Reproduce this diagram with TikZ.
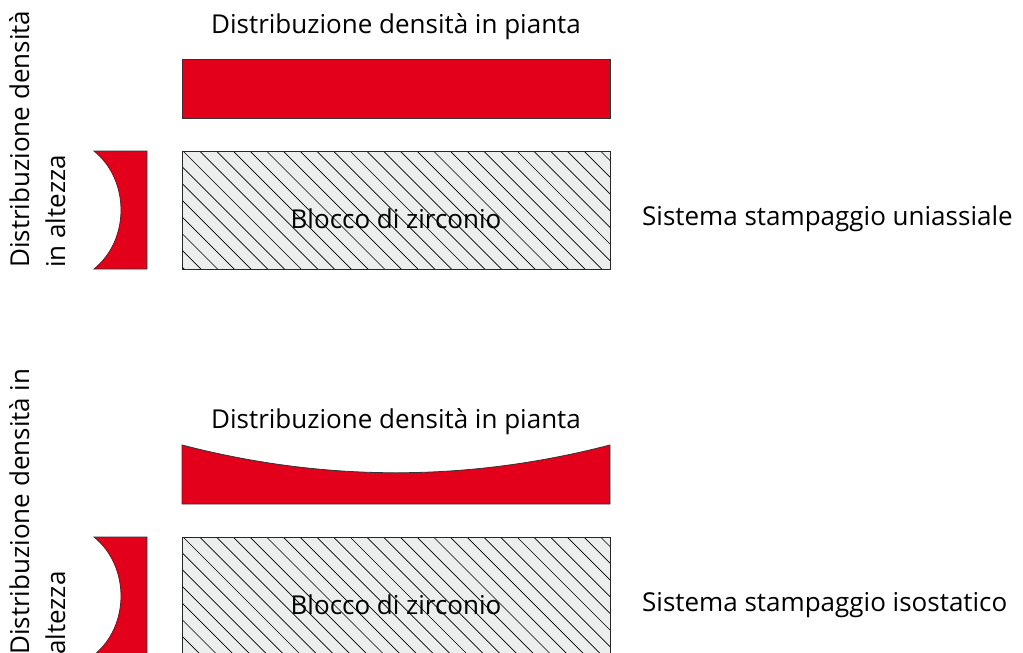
\documentclass[tikz,border=0pt]{standalone}
\usepackage{fontspec}
\setmainfont{Open Sans}
\definecolor{dred}{HTML}{E2001A}
\definecolor{hfill}{HTML}{ECEDED}
\tikzset{
  redshape/.style={fill=dred,draw=black!80,line width=0.8pt},
  blockbox/.style={fill=hfill,draw=black!85,line width=1pt},
  hatchline/.style={draw=black,line width=0.7pt},
  lbl/.style={font=\fontsize{26}{36}\selectfont,inner sep=0pt},
}
\begin{document}
\begin{tikzpicture}[x=1pt,y=-1pt]
\useasboundingbox (0,0) rectangle (1023,653);
% ---------- top ----------
\node[lbl] (t1) at (396,27) {Distribuzione densità in pianta};
\draw[redshape] (182,59) rectangle (610,118);
\draw[blockbox] (182,151) rectangle (610,269);
\begin{scope}
\clip (182,151) rectangle (610,269);
\foreach \i in {-10,...,30}{
  \draw[hatchline] ({183+16.7*\i},151) -- ++(130,130);
}
\end{scope}
\draw[blockbox,fill=none] (182,151) rectangle (610,269);
\node[lbl] (b1) at (396,219) {Blocco di zirconio};
\node[lbl,anchor=west] (s1) at (642,219) {Sistema stampaggio uniassiale};
\draw[redshape] (94,151) .. controls (130,180) and (130,240) .. (94,269) -- (147,269) -- (147,151) -- cycle;
\node[lbl,rotate=90,anchor=north west,align=left] (v1) at (9,268) {Distribuzione densità\\in altezza};
% ---------- bottom ----------
\node[lbl] (t2) at (396,422) {Distribuzione densità in pianta};
\draw[redshape] (182,445) .. controls (325,482) and (467,482) .. (610,445) -- (610,504) -- (182,504) -- cycle;
\draw[blockbox] (182,537) rectangle (610,655);
\begin{scope}
\clip (182,537) rectangle (610,655);
\foreach \i in {-10,...,30}{
  \draw[hatchline] ({183+16.7*\i},537) -- ++(130,130);
}
\end{scope}
\draw[blockbox,fill=none] (182,537) rectangle (610,655);
\node[lbl] (b2) at (396,605) {Blocco di zirconio};
\node[lbl,anchor=west] (s2) at (642,605) {Sistema stampaggio isostatico};
\draw[redshape] (94,537) .. controls (130,566) and (130,626) .. (94,655) -- (147,655) -- (147,537) -- cycle;
\node[lbl,rotate=90,anchor=north west,align=left] (v2) at (9,655) {Distribuzione densità in\\altezza};
\end{tikzpicture}
\end{document}
